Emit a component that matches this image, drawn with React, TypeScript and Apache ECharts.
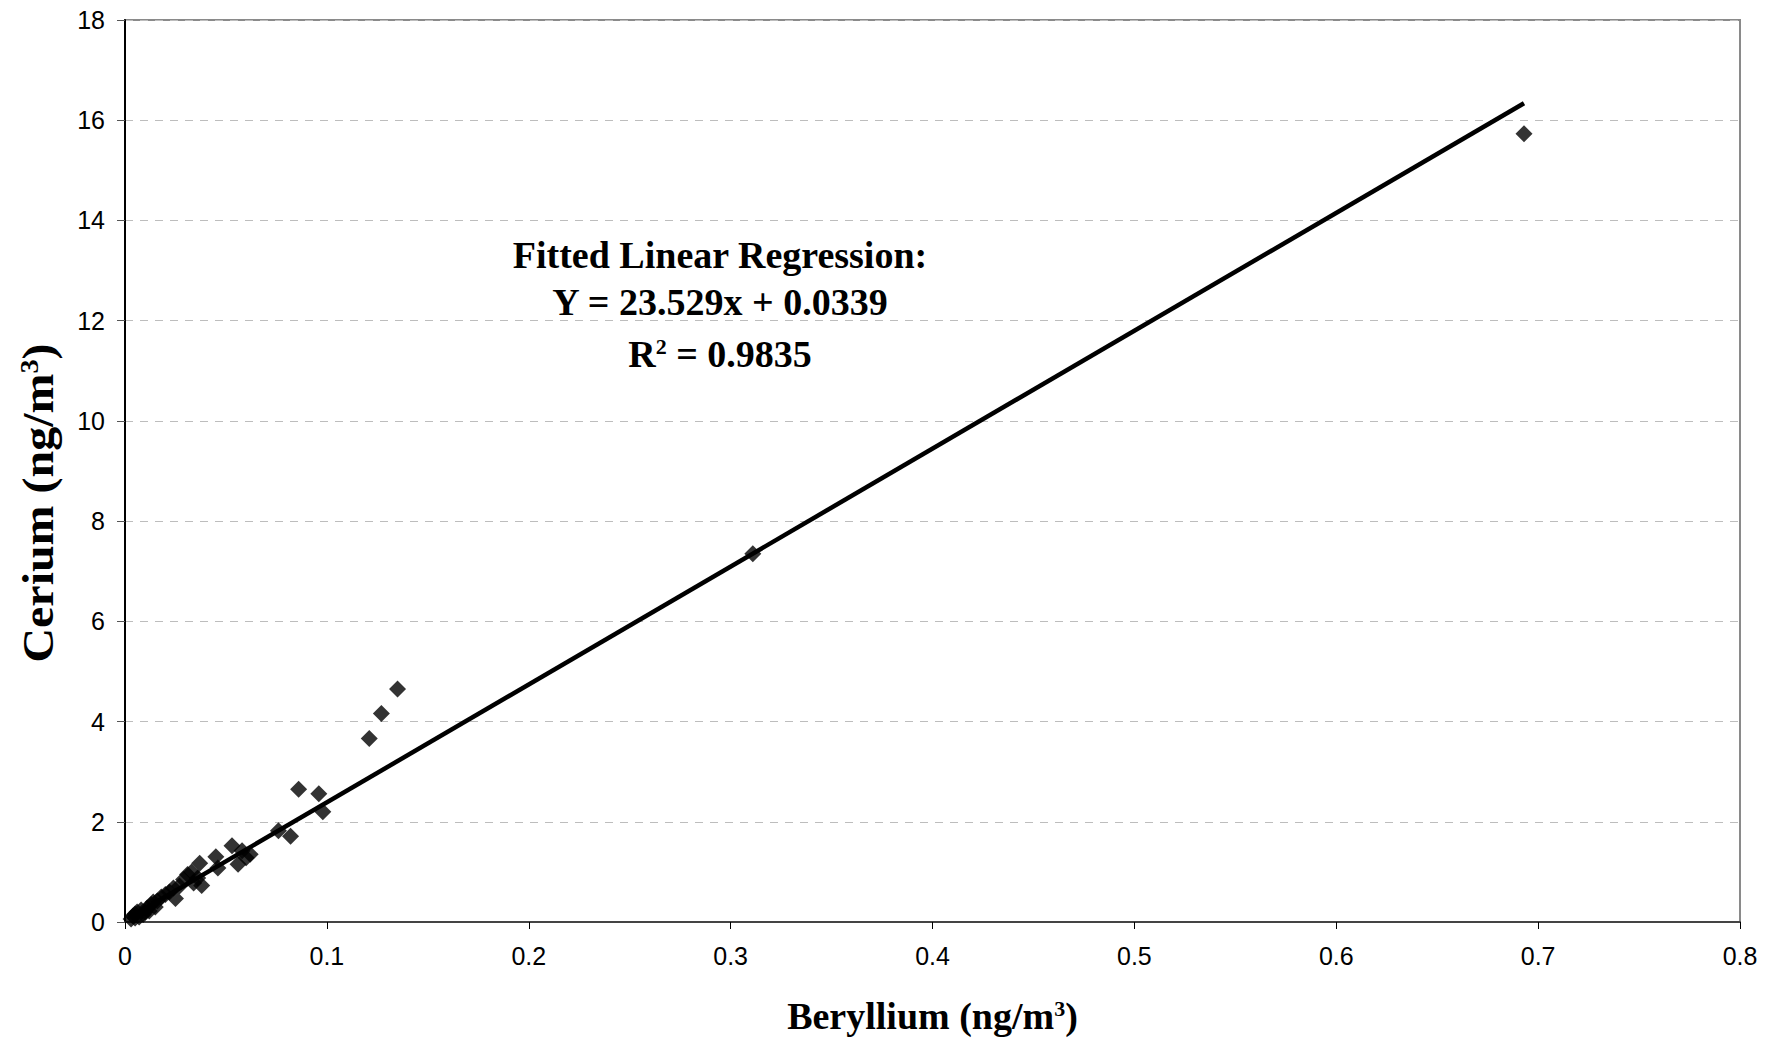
import React, { useEffect, useRef } from "react";
import * as echarts from "echarts";

// Beryllium (x) and Cerium (y) concentrations, ng/m3
const beryllium = [
  0.003, 0.004, 0.005, 0.005, 0.006, 0.007, 0.008, 0.009, 0.01, 0.011,
  0.012, 0.013, 0.014, 0.015, 0.016, 0.018, 0.02, 0.022, 0.024, 0.025,
  0.027, 0.029, 0.031, 0.033, 0.034, 0.036, 0.037, 0.038, 0.045, 0.046,
  0.053, 0.056, 0.058, 0.06, 0.062, 0.076, 0.082, 0.086, 0.096, 0.098,
  0.121, 0.127, 0.135, 0.311, 0.693,
];
const cerium = [
  0.06, 0.12, 0.08, 0.16, 0.2, 0.1, 0.24, 0.15, 0.2, 0.28,
  0.22, 0.35, 0.4, 0.3, 0.42, 0.5, 0.55, 0.6, 0.68, 0.47,
  0.72, 0.85, 0.95, 1.0, 0.78, 0.88, 1.17, 0.73, 1.3, 1.08,
  1.52, 1.15, 1.42, 1.28, 1.35, 1.82, 1.71, 2.65, 2.56, 2.2,
  3.66, 4.16, 4.65, 7.35, 15.73,
];
// fitted regression line end points (x, y)
const fitX = [0.003, 0.693];
const fitY = [0.105, 16.34];

const fitLabels = ["Fitted Linear Regression:", "Y = 23.529x + 0.0339", "R{sup|2} = 0.9835"];

const X_MIN = 0, X_MAX = 0.8, X_STEP = 0.1;
const Y_MIN = 0, Y_MAX = 18, Y_STEP = 2;

const SERIF = "'Liberation Serif', 'Times New Roman', serif";
const SANS = "'Liberation Sans', Arial, sans-serif";

export default function App() {
  const ref = useRef<HTMLDivElement>(null);
  useEffect(() => {
    if (!ref.current) return;
    const chart = echarts.init(ref.current, undefined, { renderer: "svg" });
    const points = beryllium.map((x, i) => [x, cerium[i]]);
    const fit = fitX.map((x, i) => [x, fitY[i]]);
    const annoStyle = { fontFamily: SERIF, fontWeight: "bold", fontSize: 38, fill: "#000" };
    chart.setOption({
      animation: false,
      backgroundColor: "#fff",
      grid: {
        left: 125, right: 44, top: 20, bottom: 123,
        show: true, borderColor: "#8a8a8a", borderWidth: 2, backgroundColor: "transparent",
      },
      xAxis: {
        type: "value", min: X_MIN, max: X_MAX, interval: X_STEP,
        name: "Beryllium (ng/m{sup|3})",
        nameLocation: "middle", nameGap: 75,
        nameTextStyle: {
          fontFamily: SERIF, fontWeight: "bold", fontSize: 38, color: "#000",
          rich: { sup: { fontFamily: SERIF, fontWeight: "bold", fontSize: 22, verticalAlign: "top", color: "#000" } },
        },
        axisLine: { show: true, onZero: false, lineStyle: { color: "#444", width: 2 } },
        axisTick: { show: true, inside: false, length: 7, lineStyle: { color: "#000", width: 1 } },
        axisLabel: { fontFamily: SANS, fontSize: 25, color: "#000", margin: 21 },
        splitLine: { show: false },
      },
      yAxis: {
        type: "value", min: Y_MIN, max: Y_MAX, interval: Y_STEP,
        axisLine: { show: true, onZero: false, lineStyle: { color: "#000", width: 2 } },
        axisTick: { show: true, inside: false, length: 8, lineStyle: { color: "#555", width: 1 } },
        axisLabel: { fontFamily: SANS, fontSize: 25, color: "#000", margin: 20 },
        splitLine: { show: true, lineStyle: { color: "#bdbdbd", width: 1.2, type: [8, 7] } },
      },
      graphic: [
        {
          type: "text", x: 38, y: 503, rotation: Math.PI / 2, scaleX: 1.09,
          style: {
            text: "Cerium (ng/m{sup|3})", align: "center", verticalAlign: "middle",
            fontFamily: SERIF, fontWeight: "bold", fontSize: 44, fill: "#000",
            rich: { sup: { fontFamily: SERIF, fontWeight: "bold", fontSize: 26, verticalAlign: "top", fill: "#000" } },
          },
        },
        { type: "text", x: 720, y: 255, style: { ...annoStyle, text: fitLabels[0], align: "center", verticalAlign: "middle" } },
        { type: "text", x: 720, y: 302, style: { ...annoStyle, text: fitLabels[1], align: "center", verticalAlign: "middle" } },
        {
          type: "text", x: 720, y: 354,
          style: {
            ...annoStyle, text: fitLabels[2], align: "center", verticalAlign: "middle",
            rich: { sup: { fontFamily: SERIF, fontWeight: "bold", fontSize: 22, verticalAlign: "top", fill: "#000" } },
          },
        },
      ],
      series: [
        {
          type: "scatter", data: points, symbol: "diamond", symbolSize: 17,
          itemStyle: { color: "#000" }, z: 2,
        },
        {
          type: "line", data: fit, symbol: "none", z: 3,
          lineStyle: { color: "#000", width: 4.5 },
        },
      ],
    });
    return () => chart.dispose();
  }, []);
  return <div ref={ref} style={{ position: "fixed", left: 0, top: 0, width: 1784, height: 1045 }} />;
}
